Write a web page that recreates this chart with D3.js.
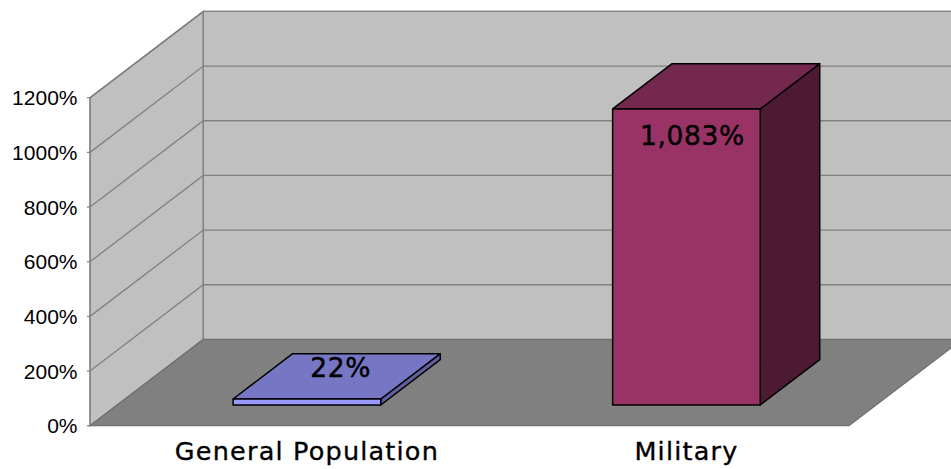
<!DOCTYPE html>
<html><head><meta charset="utf-8">
<script src="https://cdn.jsdelivr.net/npm/d3@7"></script>
<style>html,body{margin:0;padding:0;background:#fff;overflow:hidden}</style>
</head><body>
<svg id="chart" width="951" height="469"></svg>
<script>
const categories = ["General Population", "Military"];
const values = [22, 1083];
const valueLabels = ["22%", "1,083%"];
const tickValues = [0, 200, 400, 600, 800, 1000, 1200];
const tickLabels = ["0%", "200%", "400%", "600%", "800%", "1000%", "1200%"];

const svg = d3.select("#chart");
const W = 951, H = 469;
const x0 = 90, x1 = 849;          // front plane x range
const yBase = 425.7, yTop = 97.7; // front plane y range
const DX = 113.3, DY = -86.3;     // full depth offset
const dFront = 0.24, dBack = 0.765; // bar depth fractions

const y = d3.scaleLinear().domain([0, 1200]).range([yBase, yTop]);
const x = d3.scaleBand().domain(categories).range([x0, x1]).paddingInner(0.611).paddingOuter(0.3055);

const wallFill = "#c0c0c0", floorFill = "#808080", gridCol = "#808080";
const line = d3.line();

// back wall
svg.append("path").attr("d", line([[x0+DX, y(1200)+DY],[W+20, y(1200)+DY],[W+20, y(0)+DY],[x0+DX, y(0)+DY]]) + "Z")
  .attr("fill", wallFill);
// left wall
svg.append("path").attr("d", line([[x0, y(0)],[x0, y(1200)],[x0+DX, y(1200)+DY],[x0+DX, y(0)+DY]]) + "Z")
  .attr("fill", wallFill).attr("stroke", gridCol).attr("stroke-width", 1.2);
// gridlines
tickValues.forEach(v => {
  if (v === 0) return;
  svg.append("path").attr("d", line([[x0, y(v)],[x0+DX, y(v)+DY],[W+20, y(v)+DY]]))
    .attr("fill", "none").attr("stroke", gridCol).attr("stroke-width", 1.3);
});
// back wall left edge
svg.append("path").attr("d", line([[x0+DX, y(1200)+DY],[x0+DX, y(0)+DY]])).attr("stroke", gridCol).attr("stroke-width", 1.2);
// floor
svg.append("path").attr("d", line([[x0, y(0)],[x1, y(0)],[x1+DX, y(0)+DY],[x0+DX, y(0)+DY]]) + "Z")
  .attr("fill", floorFill).attr("stroke", "#6e6e6e").attr("stroke-width", 1.2);

// axis ticks and labels
const ax = svg.append("g");
tickValues.forEach((v, i) => {
  ax.append("line").attr("x1", x0-3).attr("x2", x0).attr("y1", y(v)).attr("y2", y(v)).attr("stroke", gridCol).attr("stroke-width", 1.2);
  ax.append("text").attr("x", 77.5).attr("y", y(v)).attr("dy", "0.36em")
    .attr("text-anchor", "end").attr("font-family", "Liberation Sans, Arial, sans-serif")
    .attr("font-size", 21).attr("fill", "#000").text(tickLabels[i]);
});
ax.append("line").attr("x1", x0).attr("x2", x0).attr("y1", y(0)).attr("y2", y(1200)).attr("stroke", gridCol).attr("stroke-width", 1.2);

// bars
const palettes = [
  {front: "#9999ff", top: "#7676c4", side: "#5f5fa0"},
  {front: "#993366", top: "#74284e", side: "#4e1933"}
];
categories.forEach((c, i) => {
  const v = values[i];
  const bx = x(c), bw = x.bandwidth();
  const fdx = dFront*DX, fdy = dFront*DY, bdx = dBack*DX, bdy = dBack*DY;
  const yb = y(0), yt = y(v);
  const p = palettes[i];
  const g = svg.append("g").attr("stroke", "#000").attr("stroke-width", 1.5).attr("stroke-linejoin", "round");
  // side
  g.append("path").attr("d", line([[bx+bw+fdx, yt+fdy],[bx+bw+bdx, yt+bdy],[bx+bw+bdx, yb+bdy],[bx+bw+fdx, yb+fdy]]) + "Z").attr("fill", p.side);
  // top
  g.append("path").attr("d", line([[bx+fdx, yt+fdy],[bx+bdx, yt+bdy],[bx+bw+bdx, yt+bdy],[bx+bw+fdx, yt+fdy]]) + "Z").attr("fill", p.top);
  // front
  g.append("path").attr("d", line([[bx+fdx, yt+fdy],[bx+bw+fdx, yt+fdy],[bx+bw+fdx, yb+fdy],[bx+fdx, yb+fdy]]) + "Z").attr("fill", p.front);

  // value label
  const frontH = yb - yt;
  let lx, ly;
  if (frontH < 40) {
    const dm = (dFront + dBack) / 2;
    lx = bx + bw/2 + dm*DX + 4;
    ly = yt + dm*DY + 1;
  } else {
    lx = bx + bw/2 + fdx + 6;
    ly = yt + fdy + 36;
  }
  svg.append("text").attr("x", lx).attr("y", ly).attr("text-anchor", "middle")
    .attr("font-family", "DejaVu Sans, Verdana, sans-serif").attr("font-size", 26.5)
    .attr("letter-spacing", 0.6).attr("fill", "#000").attr("stroke", "#000").attr("stroke-width", 0.45).text(valueLabels[i]);

  // category label
  svg.append("text").attr("x", bx + bw/2 + fdx).attr("y", 460).attr("text-anchor", "middle")
    .attr("font-family", "DejaVu Sans, Verdana, sans-serif").attr("font-size", 25.5)
    .attr("letter-spacing", 1.2).attr("fill", "#000").attr("stroke", "#000").attr("stroke-width", 0.35).text(c);
});
// back wall top edge
svg.append("path").attr("d", line([[x0, y(1200)],[x0+DX, y(1200)+DY],[W+20, y(1200)+DY]])).attr("fill","none").attr("stroke", gridCol).attr("stroke-width", 1.3);
</script>
</body></html>
